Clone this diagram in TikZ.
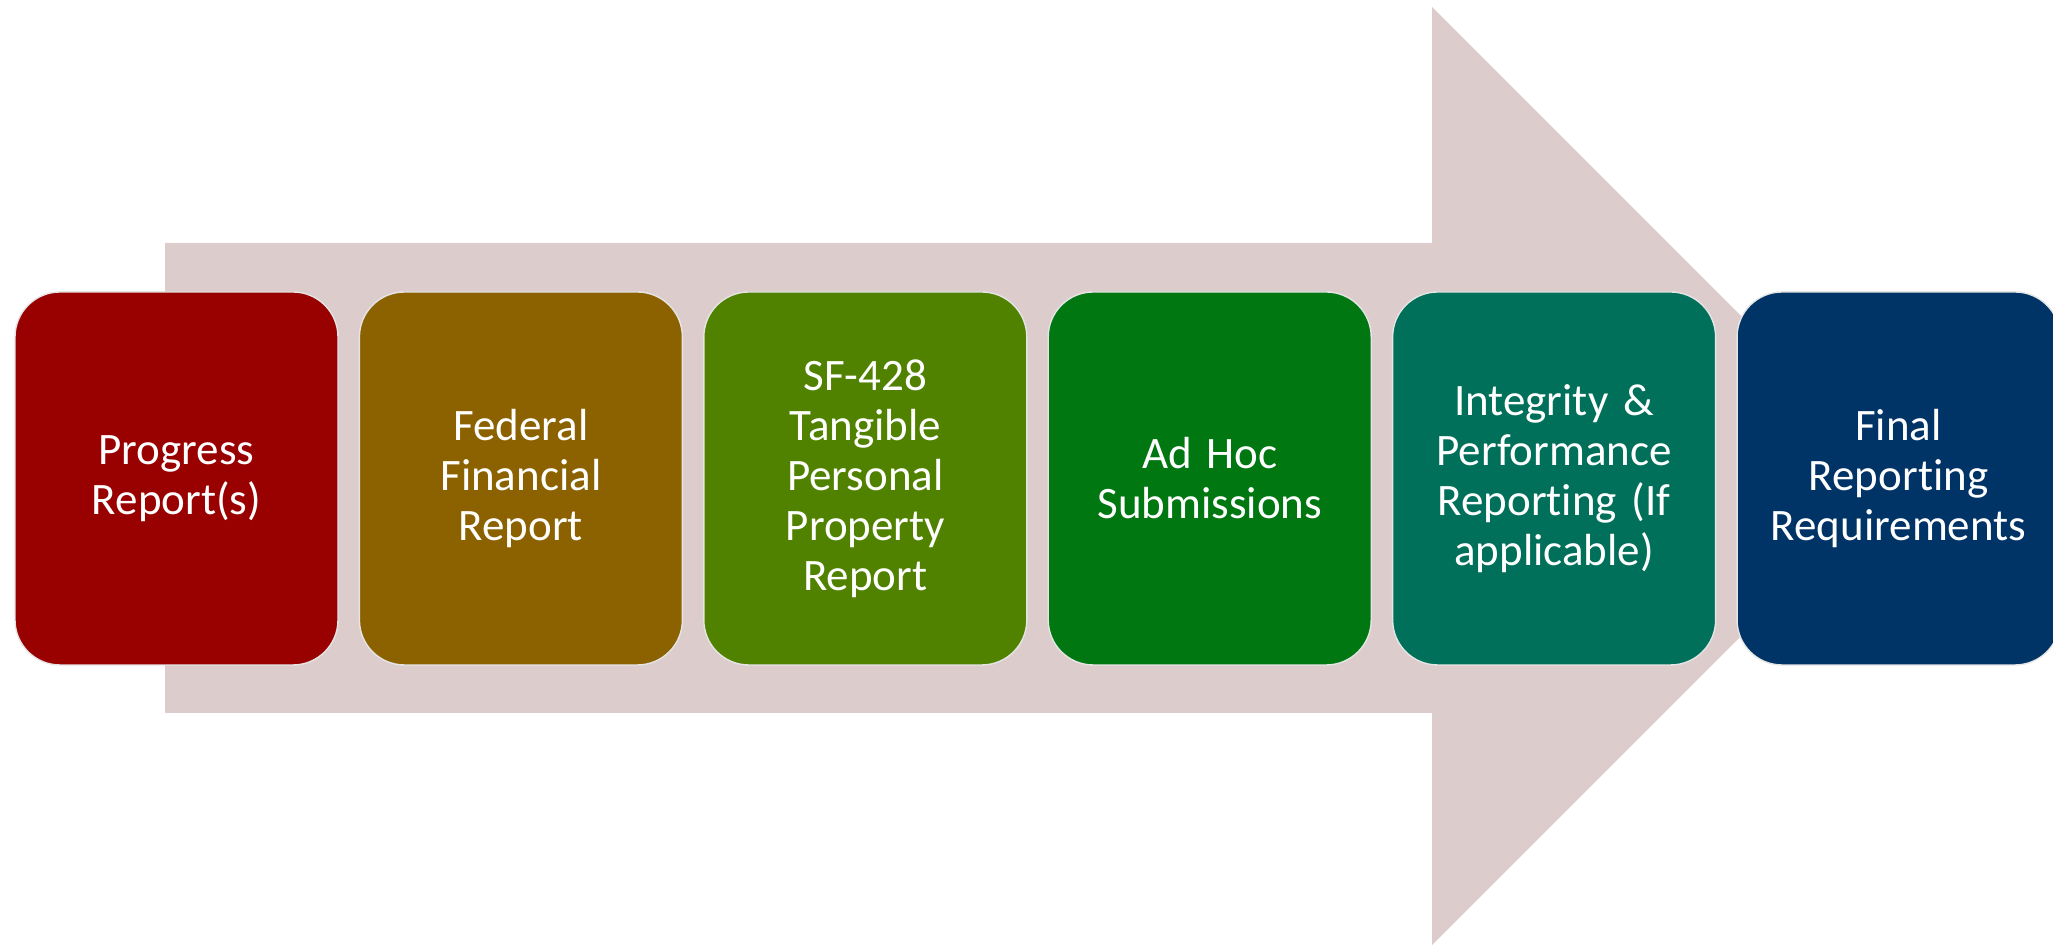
\documentclass[tikz,border=0pt]{standalone}
\usepackage{fontspec}
\setmainfont{Carlito}[Ligatures=NoCommon, WordSpace={0.7,0,0}]
\usetikzlibrary{positioning}
\definecolor{arrowpink}{HTML}{DDCCCC}
\definecolor{progred}{HTML}{990000}
\definecolor{fedgold}{HTML}{8C6200}
\definecolor{sfgreen}{HTML}{508200}
\definecolor{adhocgreen}{HTML}{007711}
\definecolor{integteal}{HTML}{00705A}
\definecolor{finalblue}{HTML}{003366}
\tikzstyle{stage} = [rectangle, rounded corners=0.45cm, minimum width=3.23cm, minimum height=3.73cm, text width=2.85cm, align=center, draw=white!90!black, thin, text=white, font=\fontsize{12.8}{14.2}\selectfont]
\tikzstyle{bigarrow} = [fill=arrowpink, draw=none]

\begin{document}
\begin{tikzpicture}[node distance=0.2cm]
\useasboundingbox (0,0) rectangle (20.53,9.48);

% Background arrow
\fill [bigarrow] (1.65,7.05) -- (14.32,7.05) -- (14.32,9.41) -- (19.01,4.72) -- (14.32,0.03) -- (14.32,2.35) -- (1.65,2.35) -- cycle;

% Nodes
\node (progress) [stage, fill=progred] at (1.765,4.695) {Progress\\Report(s)};
\node (federal) [stage, fill=fedgold, right=of progress] {Federal\\Financial\\Report};
\node (sf428) [stage, fill=sfgreen, right=of federal] {SF-428\\Tangible\\Personal\\Property\\Report};
\node (adhoc) [stage, fill=adhocgreen, right=of sf428] {Ad Hoc\\Submissions};
\node (integrity) [stage, fill=integteal, right=of adhoc] {Integrity \&\\Performance\\Reporting (If\\applicable)};
\node (final) [stage, fill=finalblue, right=of integrity] {Final\\Reporting\\Requirements};

\end{tikzpicture}
\end{document}
